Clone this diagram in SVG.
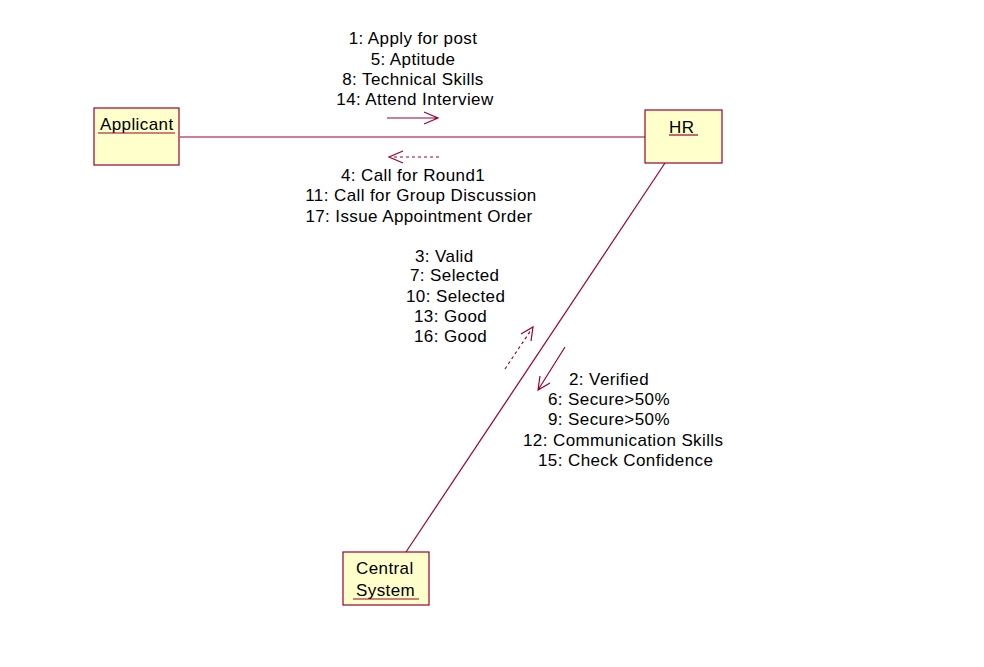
<svg xmlns="http://www.w3.org/2000/svg" width="984" height="667" viewBox="0 0 984 667">
<style>
.box{fill:#FFFFCC;stroke:#990033;stroke-width:1.2}
.ln{stroke:#990033;stroke-width:1.2;fill:none}
.dash{stroke-dasharray:3,3}
text{font-family:"Liberation Sans",Arial,sans-serif;font-size:17px;letter-spacing:0.4px;fill:#000}
.c{text-anchor:middle}
</style>
<rect width="984" height="667" fill="#fff"/>
<g id="connectors">
<line class="ln" x1="180" y1="137" x2="645" y2="137"/>
<line class="ln" x1="665" y1="163" x2="406" y2="552"/>
<path class="ln" d="M387 118 H438 M424 112 L438 118 L424 124"/>
<path class="ln dash" d="M439 157 H391"/>
<path class="ln" d="M403 151 L389 157 L403 163"/>
<path class="ln dash" d="M505 369 L531 330"/>
<path class="ln" d="M521 334 L533 327 L531 341"/>
<path class="ln" d="M565 347 L538 390 M540 376 L538 390 L550 383"/>
<text class="c" x="413" y="44">1: Apply for post</text>
<text class="c" x="413" y="65">5: Aptitude</text>
<text class="c" x="413" y="85">8: Technical Skills</text>
<text class="c" x="415" y="105">14: Attend Interview</text>
<text class="c" x="413" y="181">4: Call for Round1</text>
<text class="c" x="421" y="201">11: Call for Group Discussion</text>
<text class="c" x="419" y="222">17: Issue Appointment Order</text>
<text x="415" y="262">3: Valid</text>
<text x="410" y="281">7: Selected</text>
<text x="406" y="302">10: Selected</text>
<text x="414" y="322">13: Good</text>
<text x="414" y="342">16: Good</text>
<text x="569" y="385">2: Verified</text>
<text x="548" y="405">6: Secure&gt;50%</text>
<text x="548" y="425">9: Secure&gt;50%</text>
<text x="523" y="446">12: Communication Skills</text>
<text x="538" y="466">15: Check Confidence</text>
</g>
<g id="applicant">
<rect class="box" x="94" y="108" width="85" height="57"/>
<text x="100" y="130">Applicant</text>
<line class="ln" x1="98" y1="133" x2="175" y2="133"/>
</g>
<g id="hr">
<rect class="box" x="645" y="110" width="77" height="53"/>
<text x="669" y="133">HR</text>
<line class="ln" x1="669" y1="135" x2="698" y2="135"/>
</g>
<g id="central">
<rect class="box" x="343" y="552" width="86" height="53"/>
<text x="356" y="574">Central</text>
<text x="356" y="596">System</text>
<line class="ln" x1="353" y1="599" x2="419" y2="599"/>
</g>
</svg>
